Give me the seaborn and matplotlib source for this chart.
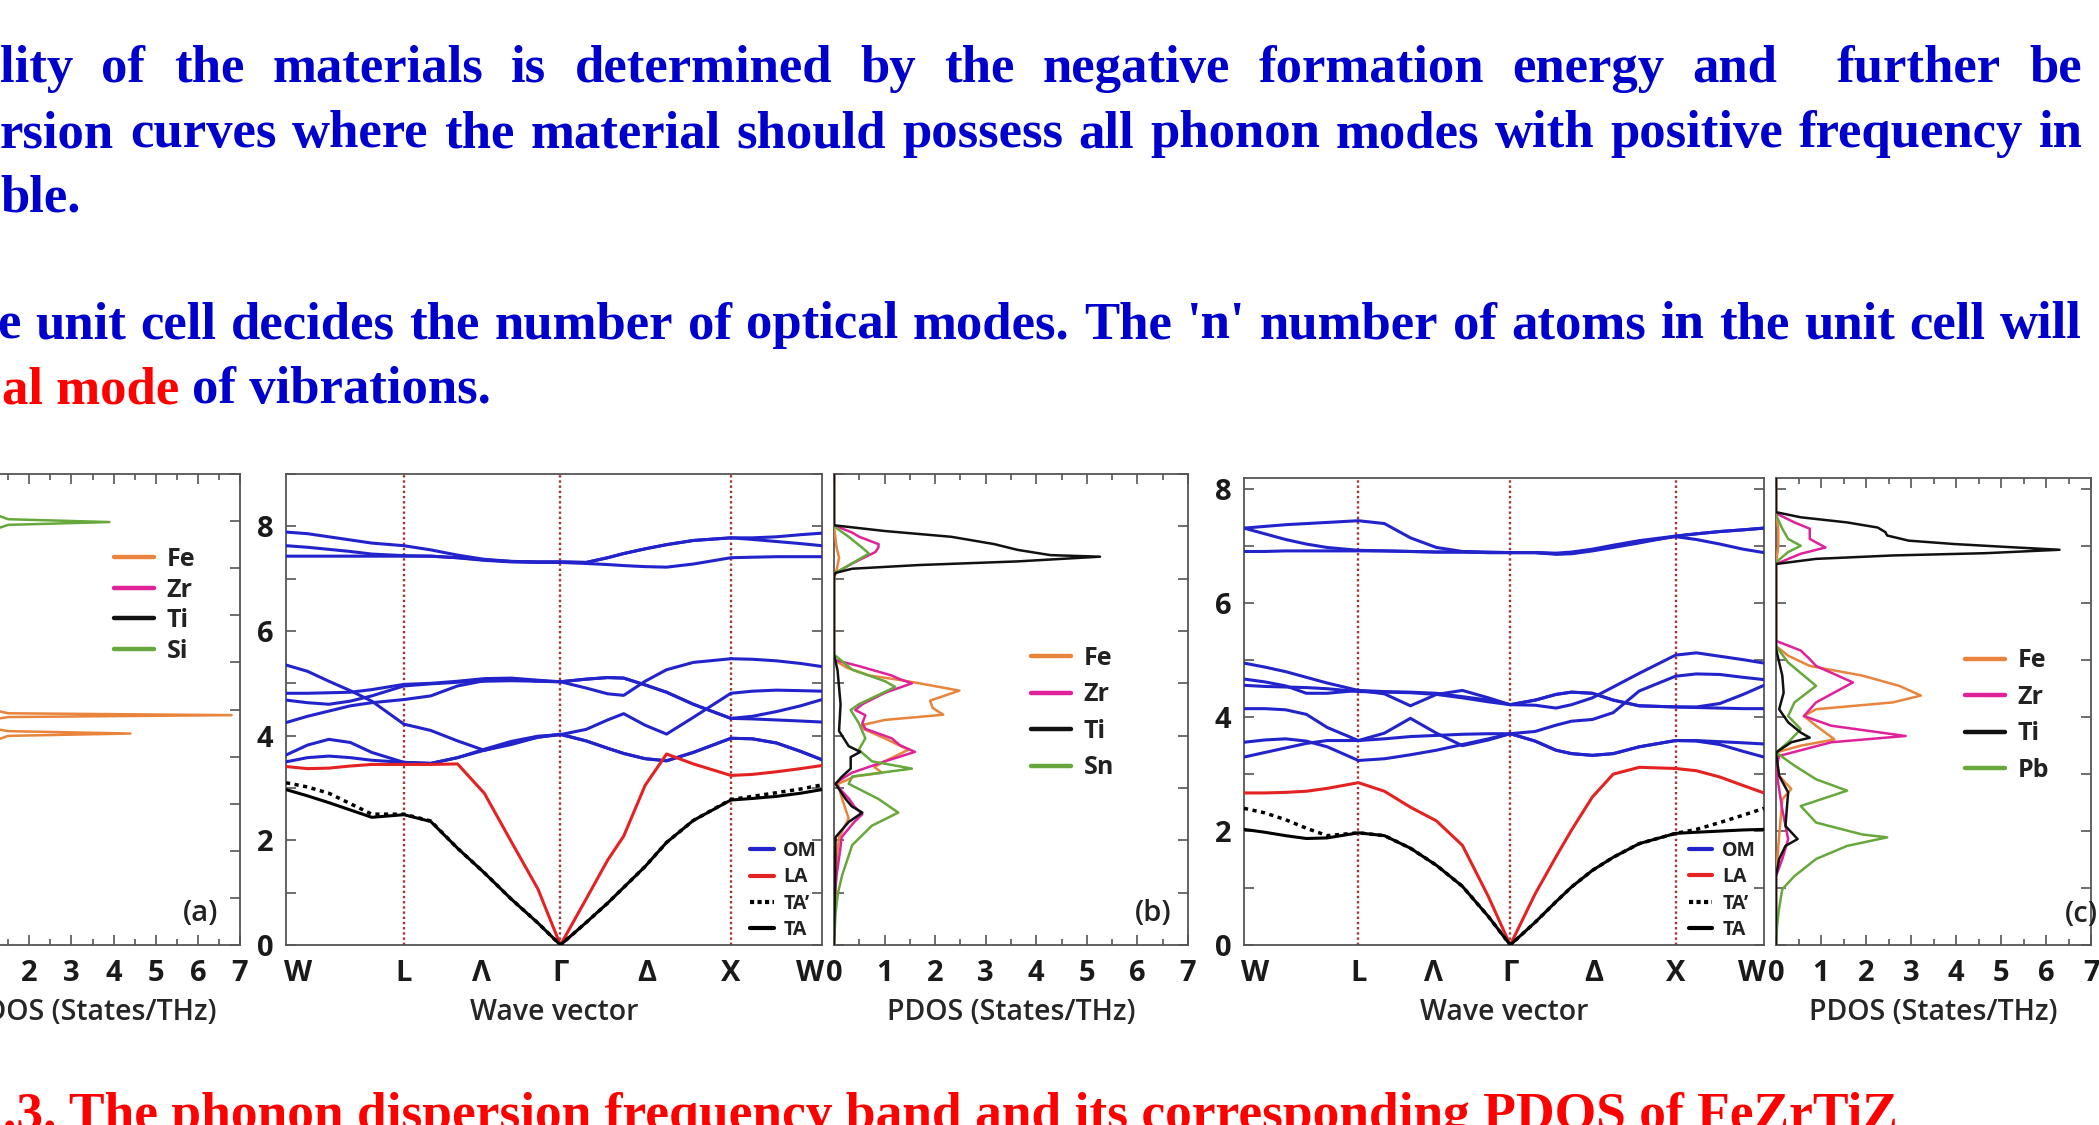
import matplotlib
matplotlib.use("Agg")
import matplotlib.pyplot as plt
from matplotlib.lines import Line2D
from matplotlib.ticker import MultipleLocator, NullFormatter
import seaborn as sns

# ------------------------------------------------------------------ data
# k-path position (fraction of W-L-Gamma-X-W path)
KPATH = [0, .04, .08, .12, .16, .22, .27, .32, .37, .42, .47, .512,
         .56, .60, .63, .67, .71, .76, .83, .87, .915, .96, 1.0]
SYM_LABELS = ["W", "L", "Λ", "Γ", "Δ", "X", "W"]
SYM_POS = [0.022, 0.22, 0.365, 0.512, 0.673, 0.83, 0.978]
SYM_LINES = [0.22, 0.512, 0.83]

# ---- (b) FeZrTiSn dispersion (THz)
T1_B = [7.89, 7.86, 7.80, 7.74, 7.68, 7.63, 7.55, 7.45, 7.37, 7.33, 7.32, 7.32, 7.31, 7.40, 7.48, 7.57, 7.65, 7.73, 7.78, 7.78, 7.80, 7.84, 7.87]
T2_B = [7.63, 7.60, 7.56, 7.52, 7.47, 7.44, 7.43, 7.40, 7.35, 7.32, 7.31, 7.31, 7.29, 7.27, 7.25, 7.23, 7.22, 7.28, 7.40, 7.41, 7.42, 7.42, 7.42]
T3_B = [7.43, 7.43, 7.43, 7.43, 7.43, 7.43, 7.43, 7.40, 7.36, 7.33, 7.32, 7.32, 7.31, 7.40, 7.48, 7.57, 7.65, 7.73, 7.78, 7.75, 7.71, 7.67, 7.63]
M1_B = [5.35, 5.23, 5.04, 4.86, 4.66, 4.22, 4.10, 3.90, 3.72, 3.83, 3.97, 4.03, 3.90, 3.76, 3.66, 3.56, 3.52, 3.68, 3.95, 3.94, 3.86, 3.70, 3.54]
M2_B = [4.81, 4.81, 4.82, 4.83, 4.88, 4.98, 5.00, 5.04, 5.09, 5.10, 5.06, 5.03, 4.91, 4.80, 4.77, 5.04, 5.26, 5.40, 5.47, 5.46, 5.43, 5.38, 5.32]
M3_B = [4.68, 4.63, 4.60, 4.66, 4.76, 4.95, 4.99, 5.02, 5.04, 5.05, 5.04, 5.03, 5.08, 5.11, 5.10, 4.97, 4.83, 4.60, 4.33, 4.32, 4.30, 4.28, 4.26]
M4_B = [4.25, 4.37, 4.47, 4.57, 4.63, 4.69, 4.76, 4.95, 5.05, 5.09, 5.04, 5.03, 5.08, 5.11, 5.10, 4.97, 4.83, 4.60, 4.33, 4.37, 4.46, 4.57, 4.69]
M5_B = [3.63, 3.82, 3.93, 3.87, 3.68, 3.49, 3.47, 3.58, 3.74, 3.89, 3.99, 4.02, 4.12, 4.30, 4.42, 4.20, 4.03, 4.35, 4.81, 4.85, 4.87, 4.86, 4.85]
M6_B = [3.50, 3.58, 3.61, 3.58, 3.53, 3.49, 3.47, 3.58, 3.72, 3.86, 3.97, 4.02, 3.90, 3.76, 3.66, 3.56, 3.52, 3.68, 3.95, 3.94, 3.86, 3.70, 3.54]
LA_B = [3.41, 3.37, 3.38, 3.42, 3.45, 3.45, 3.45, 3.46, 2.90, 1.98, 1.07, 0.0, 0.88, 1.62, 2.08, 3.05, 3.65, 3.46, 3.24, 3.26, 3.31, 3.37, 3.43]
TA2_B = [3.10, 3.02, 2.90, 2.70, 2.50, 2.50, 2.37, 1.85, 1.38, 0.88, 0.42, 0.0, 0.43, 0.80, 1.10, 1.50, 1.96, 2.38, 2.78, 2.84, 2.91, 2.98, 3.06]
TA_B = [2.97, 2.85, 2.72, 2.58, 2.44, 2.49, 2.36, 1.85, 1.38, 0.88, 0.42, 0.0, 0.43, 0.80, 1.10, 1.50, 1.96, 2.38, 2.77, 2.80, 2.84, 2.90, 2.97]

# ---- (c) FeZrTiPb dispersion (THz)
T1_C = [7.32, 7.35, 7.38, 7.40, 7.42, 7.45, 7.40, 7.15, 6.98, 6.91, 6.90, 6.89, 6.89, 6.88, 6.90, 6.95, 7.02, 7.10, 7.18, 7.22, 7.26, 7.29, 7.32]
T2_C = [7.32, 7.22, 7.12, 7.04, 6.98, 6.93, 6.92, 6.91, 6.90, 6.90, 6.89, 6.89, 6.89, 6.87, 6.88, 6.93, 7.00, 7.08, 7.17, 7.12, 7.04, 6.95, 6.89]
T3_C = [6.91, 6.91, 6.92, 6.92, 6.92, 6.92, 6.92, 6.91, 6.90, 6.90, 6.89, 6.89, 6.89, 6.86, 6.87, 6.92, 6.98, 7.06, 7.18, 7.22, 7.26, 7.29, 7.32]
D1_C = [4.95, 4.88, 4.80, 4.70, 4.60, 4.47, 4.45, 4.44, 4.42, 4.36, 4.30, 4.22, 4.30, 4.40, 4.44, 4.42, 4.30, 4.20, 4.18, 4.18, 4.24, 4.40, 4.56]
D2_C = [4.67, 4.62, 4.55, 4.42, 4.42, 4.47, 4.41, 4.20, 4.40, 4.47, 4.34, 4.22, 4.21, 4.16, 4.22, 4.34, 4.53, 4.77, 5.09, 5.13, 5.07, 5.01, 4.95]
D3_C = [4.56, 4.54, 4.53, 4.52, 4.50, 4.45, 4.44, 4.43, 4.40, 4.34, 4.27, 4.22, 4.30, 4.40, 4.44, 4.42, 4.30, 4.20, 4.18, 4.17, 4.16, 4.15, 4.15]
D4_C = [4.15, 4.15, 4.13, 4.05, 3.82, 3.59, 3.72, 3.98, 3.72, 3.50, 3.60, 3.71, 3.75, 3.86, 3.93, 3.96, 4.08, 4.46, 4.72, 4.76, 4.75, 4.70, 4.66]
D5_C = [3.56, 3.60, 3.62, 3.58, 3.48, 3.24, 3.27, 3.34, 3.42, 3.52, 3.62, 3.71, 3.58, 3.42, 3.36, 3.33, 3.36, 3.48, 3.59, 3.58, 3.52, 3.40, 3.30]
D6_C = [3.30, 3.38, 3.46, 3.54, 3.59, 3.59, 3.62, 3.66, 3.68, 3.70, 3.71, 3.71, 3.58, 3.42, 3.36, 3.33, 3.36, 3.48, 3.59, 3.59, 3.57, 3.55, 3.53]
LA_C = [2.67, 2.67, 2.68, 2.70, 2.75, 2.85, 2.70, 2.42, 2.18, 1.75, 0.85, 0.0, 0.90, 1.55, 2.02, 2.60, 3.00, 3.12, 3.10, 3.06, 2.95, 2.80, 2.67]
TA2_C = [2.40, 2.32, 2.20, 2.05, 1.92, 1.97, 1.92, 1.70, 1.40, 1.03, 0.50, 0.0, 0.40, 0.76, 1.02, 1.31, 1.54, 1.78, 1.96, 2.03, 2.15, 2.28, 2.40]
TA_C = [2.03, 1.98, 1.92, 1.87, 1.88, 1.97, 1.92, 1.70, 1.40, 1.03, 0.50, 0.0, 0.40, 0.76, 1.02, 1.31, 1.54, 1.78, 1.96, 1.98, 2.00, 2.02, 2.03]

# ---- PDOS (frequency THz, states/THz)
FE_A_F = [0, 4.0, 4.44, 4.49, 4.54, 4.70, 4.84, 4.88, 4.92, 5.2, 10]
FE_A_D = [0, 0.1, 1.5, 4.4, 1.5, 0.5, 1.5, 6.8, 1.5, 0.1, 0]
SI_A_F = [0, 8.5, 8.92, 8.98, 9.04, 9.5, 10]
SI_A_D = [0, 0.1, 1.5, 3.9, 1.5, 0.1, 0]

FE_B_F = [0, 1.0, 1.7, 2.06, 2.42, 2.79, 3.08, 3.15, 3.22, 3.29, 3.40, 3.51, 3.73, 3.95, 4.12, 4.20, 4.30, 4.40, 4.53, 4.67, 4.86, 4.97, 5.05, 5.15, 5.30, 5.45, 7.0, 7.2, 7.4, 7.6, 8.0, 9.0]
FE_B_D = [0, 0.03, 0.06, 0.10, 0.29, 0.16, 0.08, 0.25, 0.40, 0.95, 0.80, 1.00, 1.47, 1.00, 0.60, 0.55, 1.00, 2.16, 1.95, 1.90, 2.48, 1.86, 1.40, 0.70, 0.25, 0.0, 0.0, 0.06, 0.10, 0.05, 0.0, 0.0]
ZR_B_F = [0, 1.0, 1.33, 1.8, 2.06, 2.35, 2.50, 2.65, 2.79, 3.0, 3.08, 3.15, 3.29, 3.51, 3.69, 3.82, 3.95, 4.13, 4.24, 4.39, 4.49, 4.60, 4.82, 5.0, 5.08, 5.15, 5.33, 5.45, 7.05, 7.11, 7.29, 7.51, 7.60, 7.66, 7.80, 7.88, 8.02, 9.0]
ZR_B_D = [0, 0.02, 0.05, 0.12, 0.15, 0.40, 0.56, 0.40, 0.30, 0.10, 0.03, 0.12, 0.35, 1.01, 1.60, 1.30, 1.14, 0.62, 0.56, 0.62, 0.42, 0.56, 1.01, 1.54, 1.30, 1.14, 0.49, 0.0, 0.0, 0.03, 0.36, 0.82, 0.88, 0.88, 0.50, 0.36, 0.0, 0.0]
TI_B_F = [0, 1.2, 2.06, 2.35, 2.53, 2.65, 2.79, 3.08, 3.22, 3.37, 3.59, 3.69, 3.80, 4.09, 4.60, 5.25, 5.55, 7.05, 7.11, 7.19, 7.26, 7.33, 7.42, 7.45, 7.55, 7.66, 7.80, 7.91, 8.02, 9.0]
TI_B_D = [0, 0.02, 0.03, 0.29, 0.56, 0.35, 0.23, 0.03, 0.16, 0.33, 0.33, 0.52, 0.29, 0.10, 0.13, 0.07, 0.0, 0.0, 0.03, 0.36, 1.67, 3.63, 5.26, 4.28, 3.63, 3.17, 2.32, 1.01, 0.0, 0.0]
SN_B_F = [0, 0.6, 1.0, 1.33, 1.91, 2.28, 2.53, 2.79, 3.08, 3.22, 3.37, 3.51, 3.73, 3.95, 4.24, 4.49, 4.60, 4.93, 5.04, 5.26, 5.55, 7.10, 7.22, 7.48, 7.59, 7.80, 8.0, 9.0]
SN_B_D = [0, 0.03, 0.08, 0.16, 0.36, 0.75, 1.27, 0.88, 0.29, 0.36, 1.54, 0.75, 0.49, 0.62, 0.49, 0.33, 0.49, 1.21, 1.01, 0.36, 0.0, 0.0, 0.23, 0.69, 0.56, 0.29, 0.0, 0.0]

FE_C_F = [0, 1.2, 1.92, 2.56, 2.74, 2.97, 3.38, 3.50, 3.61, 3.85, 4.02, 4.14, 4.26, 4.38, 4.55, 4.73, 4.90, 5.08, 5.25, 6.7, 7.0, 7.3, 7.6, 8.2]
FE_C_D = [0, 0.0, 0.07, 0.14, 0.34, 0.07, 0.0, 0.55, 1.30, 0.89, 0.62, 0.89, 2.60, 3.22, 2.74, 1.92, 0.75, 0.27, 0.0, 0.0, 0.05, 0.05, 0.0, 0.0]
ZR_C_F = [0, 1.21, 1.51, 1.86, 2.38, 3.09, 3.32, 3.56, 3.67, 3.85, 4.02, 4.26, 4.61, 4.90, 5.02, 5.17, 5.34, 6.69, 6.87, 6.98, 7.13, 7.31, 7.42, 7.58, 8.2]
ZR_C_D = [0, 0.0, 0.14, 0.27, 0.14, 0.0, 0.07, 1.23, 2.88, 1.23, 0.62, 0.89, 1.71, 0.89, 0.75, 0.55, 0.0, 0.0, 0.55, 1.10, 0.75, 0.75, 0.41, 0.0, 0.0]
TI_C_F = [0, 1.21, 1.51, 1.74, 1.86, 2.09, 2.68, 2.97, 3.38, 3.56, 3.64, 3.73, 3.91, 4.14, 4.43, 4.73, 5.20, 6.69, 6.78, 6.84, 6.88, 6.94, 6.98, 7.04, 7.10, 7.19, 7.25, 7.33, 7.42, 7.51, 7.60, 8.2]
TI_C_D = [0, 0.0, 0.07, 0.21, 0.48, 0.21, 0.27, 0.07, 0.0, 0.34, 0.75, 0.55, 0.27, 0.07, 0.17, 0.14, 0.0, 0.0, 0.89, 2.60, 4.66, 6.30, 5.34, 3.97, 2.95, 2.47, 2.43, 2.26, 1.58, 0.55, 0.0, 0.0]
PB_C_F = [0, 0.3, 0.6, 0.98, 1.21, 1.51, 1.74, 1.89, 1.94, 2.15, 2.44, 2.71, 2.91, 3.15, 3.38, 3.56, 3.79, 4.02, 4.26, 4.55, 4.96, 5.25, 6.72, 6.90, 7.01, 7.13, 7.31, 7.55, 8.2]
PB_C_D = [0, 0.02, 0.06, 0.14, 0.41, 0.89, 1.58, 2.47, 1.92, 0.89, 0.55, 1.58, 0.89, 0.41, 0.0, 0.27, 0.55, 0.27, 0.41, 0.89, 0.27, 0.0, 0.0, 0.27, 0.55, 0.27, 0.14, 0.0, 0.0]

ELEM_A = ["Fe", "Zr", "Ti", "Si"]
ELEM_B = ["Fe", "Zr", "Ti", "Sn"]
ELEM_C = ["Fe", "Zr", "Ti", "Pb"]
MODE_LABELS = ["OM", "LA", "TA\u2019", "TA"]

LINE1 = "lity of the materials is determined by the negative formation energy and further be"
LINE2 = "rsion curves where the material should possess all phonon modes with positive frequency in"
LINE3 = "ble."
LINE4 = "e unit cell decides the number of optical modes. The 'n' number of atoms in the unit cell will"
LINE5_RED = "al mode"
LINE5_BLUE = "of vibrations."
CAPTION = ".3. The phonon dispersion frequency band and its corresponding PDOS of FeZrTiZ"

# ------------------------------------------------------------------ style
BLUE = "#2323CC"
RED = "#E42222"
FE_C = "#E8843C"
ZR_C = "#E0219A"
TI_C = "#111111"
GR_C = "#66A83C"
VLINE = "#A43434"
SPINE = "#555555"
TXT_BLUE = "#0000CC"
TXT_RED = "#FF0000"
SANS = ["Open Sans", "DejaVu Sans"]

sns.set_theme(style="ticks")
plt.rcParams["font.family"] = SANS
plt.rcParams["font.weight"] = "bold"
plt.rcParams["axes.edgecolor"] = SPINE
plt.rcParams["axes.linewidth"] = 1.3
plt.rcParams["text.color"] = "#222222"
plt.rcParams["xtick.color"] = SPINE
plt.rcParams["ytick.color"] = SPINE
plt.rcParams["xtick.labelcolor"] = "#1a1a1a"
plt.rcParams["ytick.labelcolor"] = "#1a1a1a"

W, H = 2099, 1125
fig = plt.figure(figsize=(W / 100, H / 100), dpi=100)
fig.patch.set_facecolor("white")


def add_axes(x0, x1, top, bottom=945):
    ax = fig.add_axes([x0 / W, 1 - bottom / H, (x1 - x0) / W, (bottom - top) / H])
    ax.set_facecolor("white")
    return ax


axA = add_axes(-55, 240, 474)
axB = add_axes(286, 822, 474)
axBP = add_axes(834, 1188, 474)
axC = add_axes(1244, 1764, 478)
axCP = add_axes(1776, 2091, 478)

LW = 2.2
TICK_SIZE = 21
LABEL_SIZE = 20.5


def bold_ticks(ax):
    for lab in ax.get_xticklabels() + ax.get_yticklabels():
        lab.set_fontweight("bold")
        lab.set_fontsize(TICK_SIZE)


def draw_disp(ax, om, la, ta2, ta, ytop, leg_xy):
    for x in SYM_LINES:
        ax.axvline(x, color=VLINE, lw=1.7, ls=(0, (1, 1.2)), zorder=1)
    for br in om:
        sns.lineplot(x=KPATH, y=br, ax=ax, color=BLUE, lw=LW, sort=False,
                     estimator=None, legend=False, zorder=3)
    sns.lineplot(x=KPATH, y=la, ax=ax, color=RED, lw=LW, sort=False,
                 estimator=None, legend=False, zorder=3)
    sns.lineplot(x=KPATH, y=ta2, ax=ax, color="black", lw=LW + 0.3, ls=(0, (1.2, 1.3)),
                 sort=False, estimator=None, legend=False, zorder=3)
    sns.lineplot(x=KPATH, y=ta, ax=ax, color="black", lw=LW, sort=False,
                 estimator=None, legend=False, zorder=3)
    ax.set_xlim(0, 1)
    ax.set_ylim(0, ytop)
    ax.set_xticks(SYM_POS, SYM_LABELS)
    ax.tick_params(axis="x", length=0, pad=10)
    ax.yaxis.set_major_locator(MultipleLocator(2))
    ax.yaxis.set_minor_locator(MultipleLocator(1))
    ax.tick_params(axis="y", which="both", direction="in", left=True, right=True,
                   length=7, width=1.2, pad=9)
    bold_ticks(ax)
    ax.set_xlabel("Wave vector", fontsize=LABEL_SIZE, fontweight="semibold", labelpad=7)
    ax.set_ylabel("")
    handles = [Line2D([], [], color=BLUE, lw=3),
               Line2D([], [], color=RED, lw=3),
               Line2D([], [], color="black", lw=3, ls=(0, (1, 0.8))),
               Line2D([], [], color="black", lw=3)]
    ax.legend(handles, MODE_LABELS, loc="upper left", bbox_to_anchor=leg_xy,
              frameon=False, prop={"size": 14, "weight": "bold", "family": SANS},
              handlelength=1.2, handletextpad=0.5, labelspacing=0.33,
              borderpad=0, borderaxespad=0)


def draw_pdos(ax, series, labels, ytop, leg_xy, tag, tag_x, lspace):
    for f, d, c in series:
        sns.lineplot(x=d, y=f, ax=ax, color=c, lw=1.8, sort=False,
                     estimator=None, legend=False, zorder=3)
    ax.set_xlim(0, 7)
    ax.set_ylim(0, ytop)
    ax.xaxis.set_major_locator(MultipleLocator(1))
    ax.xaxis.set_minor_locator(MultipleLocator(0.5))
    ax.yaxis.set_major_locator(MultipleLocator(1))
    ax.yaxis.set_major_formatter(NullFormatter())
    ax.tick_params(axis="x", which="both", direction="in", top=True, bottom=True,
                   pad=10, width=1.2, labelsize=TICK_SIZE)
    ax.tick_params(axis="x", which="major", length=7)
    ax.tick_params(axis="x", which="minor", length=4)
    ax.tick_params(axis="y", which="major", direction="in", left=True, right=True,
                   length=7, width=1.2, labelleft=False)
    bold_ticks(ax)
    ax.set_xlabel("PDOS (States/THz)", fontsize=LABEL_SIZE, fontweight="semibold", labelpad=7)
    ax.set_ylabel("")
    cols = [FE_C, ZR_C, TI_C, GR_C]
    handles = [Line2D([], [], color=c, lw=3.2) for c in cols]
    ax.legend(handles, labels, loc="upper left", bbox_to_anchor=leg_xy,
              frameon=False, prop={"size": 18, "weight": "bold", "family": SANS},
              handlelength=1.6, handletextpad=0.5, labelspacing=lspace,
              borderpad=0, borderaxespad=0)
    ax.text(tag_x, 0.066, tag, transform=ax.transAxes, ha="center", va="center",
            fontsize=21, fontweight="semibold", color="#222222")


draw_disp(axB, [T1_B, T2_B, T3_B, M1_B, M2_B, M3_B, M4_B, M5_B, M6_B],
          LA_B, TA2_B, TA_B, 9.0, (0.866, 0.221))
draw_disp(axC, [T1_C, T2_C, T3_C, D1_C, D2_C, D3_C, D4_C, D5_C, D6_C],
          LA_C, TA2_C, TA_C, 8.2, (0.856, 0.223))

draw_pdos(axA, [(FE_A_F, FE_A_D, FE_C), (SI_A_F, SI_A_D, GR_C)], ELEM_A,
          10.0, (0.573, 0.845), "(a)", 0.868, 0.22)
draw_pdos(axBP, [(FE_B_F, FE_B_D, FE_C), (ZR_B_F, ZR_B_D, ZR_C),
                 (SN_B_F, SN_B_D, GR_C), (TI_B_F, TI_B_D, TI_C)], ELEM_B,
          9.0, (0.556, 0.635), "(b)", 0.901, 0.46)
draw_pdos(axCP, [(FE_C_F, FE_C_D, FE_C), (ZR_C_F, ZR_C_D, ZR_C),
                 (PB_C_F, PB_C_D, GR_C), (TI_C_F, TI_C_D, TI_C)], ELEM_C,
          8.2, (0.60, 0.635), "(c)", 0.971, 0.46)

# ------------------------------------------------------------------ slide text
renderer = fig.canvas.get_renderer()
TXT = dict(family=["Liberation Serif", "DejaVu Serif"], weight="bold", size=38)


def fy(py):
    return 1 - py / H


def justify(words, x0, x1, ybase, color, weights=None):
    texts = [fig.text(0, fy(ybase), w, color=color, va="baseline", ha="left", **TXT)
             for w in words]
    widths = [t.get_window_extent(renderer).width for t in texts]
    weights = weights or [1.0] * (len(words) - 1)
    unit = ((x1 - x0) - sum(widths)) / sum(weights)
    x = x0
    for i, t in enumerate(texts):
        t.set_x(x / W)
        if i < len(weights):
            x += widths[i] + unit * weights[i]


w1 = LINE1.split()
g1 = [1.0] * (len(w1) - 1)
g1[w1.index("and")] = 2.1
justify(w1, 0, 2082, 82, TXT_BLUE, g1)
justify(LINE2.split(), 0, 2083, 147, TXT_BLUE)
fig.text(0, fy(211), LINE3, color=TXT_BLUE, va="baseline", ha="left", **TXT)
justify(LINE4.split(), -3, 2082, 338, TXT_BLUE)
fig.text(2 / W, fy(403), LINE5_RED, color=TXT_RED, va="baseline", ha="left", **TXT)
fig.text(192 / W, fy(403), LINE5_BLUE, color=TXT_BLUE, va="baseline", ha="left", **TXT)
fig.text(3 / W, fy(1129), CAPTION, color=TXT_RED, va="baseline", ha="left",
         family=["Liberation Serif", "DejaVu Serif"], weight="bold", size=38.5)

fig.savefig("out.png", dpi=100, facecolor="white")
